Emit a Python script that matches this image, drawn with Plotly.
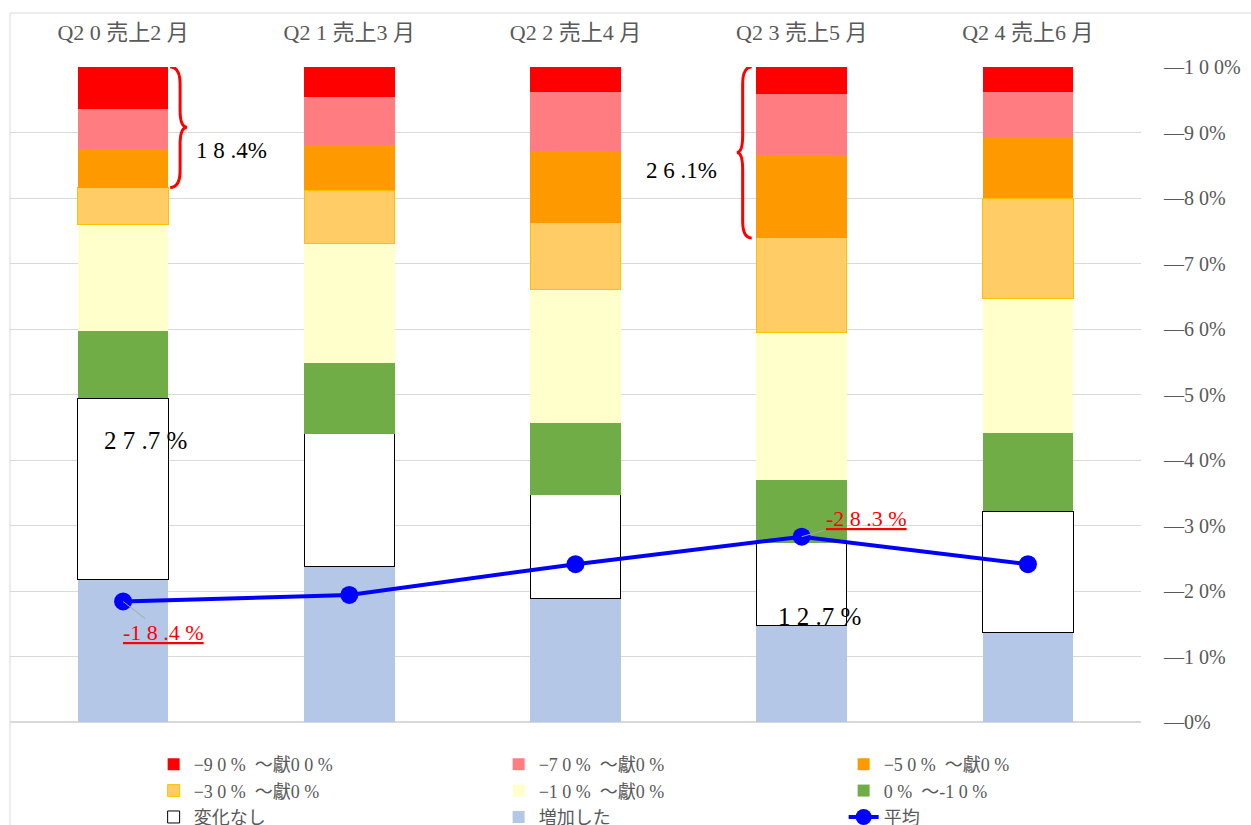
import plotly.graph_objects as go

categories = ["Q2 0 売上2 月", "Q2 1 売上3 月", "Q2 2 売上4 月", "Q2 3 売上5 月", "Q2 4 売上6 月"]

# stacked shares (%), bottom to top
increased   = [21.7, 23.7, 18.8, 14.7, 13.6]   # 増加した
no_change   = [27.7, 20.3, 15.9, 12.7, 18.6]   # 変化なし
d0_10       = [10.3, 10.8, 10.9,  9.5, 11.9]   # 0% ~ -10%
d10_30      = [16.2, 18.2, 20.4, 22.5, 20.6]   # -10% ~ -30%
d30_50      = [ 5.7,  8.2, 10.2, 14.5, 15.3]   # -30% ~ -50%
d50_70      = [ 5.9,  6.9, 11.0, 12.7,  9.3]   # -50% ~ -70%
d70_90      = [ 6.1,  7.3,  9.0,  9.3,  6.9]   # -70% ~ -90%
d90_100     = [ 6.4,  4.6,  3.8,  4.1,  3.8]   # -90% ~ -100%
average     = [18.4, 19.4, 24.1, 28.3, 24.1]   # 平均 (magnitude of decline)

y_ticks = [0, 10, 20, 30, 40, 50, 60, 70, 80, 90, 100]
y_tick_text = ["—0%", "—1 0%", "—2 0%", "—3 0%", "—4 0%", "—5 0%",
               "—6 0%", "—7 0%", "—8 0%", "—9 0%", "—1 0 0%"]

series = [
    ("増加した", increased, "#B4C7E7", "#B4C7E7", 0, 8),
    ("変化なし", no_change, "#FFFFFF", "#000000", 1, 7),
    ("0 %  〜-1 0 %", d0_10, "#70AD47", "#70AD47", 0, 6),
    ("−1 0 %  〜獻0 %", d10_30, "#FFFFCC", "#FFFFCC", 0, 5),
    ("−3 0 %  〜獻0 %", d30_50, "#FFCC66", "#FFC000", 1, 4),
    ("−5 0 %  〜獻0 %", d50_70, "#FF9900", "#FF9900", 0, 3),
    ("−7 0 %  〜獻0 %", d70_90, "#FF7C80", "#FF7C80", 0, 2),
    ("−9 0 %  〜獻0 0 %", d90_100, "#FF0000", "#FF0000", 0, 1),
]

FONT = "Liberation Serif, 'Noto Sans CJK JP', serif"
GRAY = "#595959"

xs = list(range(len(categories)))
fig = go.Figure()
for name, vals, fill, line, lw, rank in series:
    fig.add_trace(go.Bar(
        x=xs, y=vals, name=name, width=0.4,
        marker=dict(color=fill, line=dict(color=line, width=lw)),
        legendrank=rank, hoverinfo="skip",
    ))

fig.add_trace(go.Scatter(
    x=xs, y=average, name="平均", mode="lines+markers",
    line=dict(color="#0000FF", width=4),
    marker=dict(color="#0000FF", size=18),
    legendrank=9,
))

# stacked tops for annotation placement
def cum(i, k):
    return sum(s[1][i] for s in series[:k])

# data labels of the average line
fig.add_annotation(x=0, y=average[0], text="<u>-1 8 .4 %</u>", showarrow=True,
                   ax=40, ay=31, arrowhead=0, arrowwidth=1, arrowcolor="#A6A6A6",
                   font=dict(family=FONT, size=22, color="#FF0000"))
fig.add_annotation(x=3, y=average[3], text="<u>-2 8 .3 %</u>", showarrow=True,
                   ax=65, ay=-18, arrowhead=0, arrowwidth=1, arrowcolor="#A6A6A6",
                   font=dict(family=FONT, size=22, color="#FF0000"))

# white segment labels
fig.add_annotation(x=0.1, y=cum(0, 1) + no_change[0] * 0.77, text="2 7 .7 %", showarrow=False,
                   font=dict(family=FONT, size=25, color="#000000"))
fig.add_annotation(x=3.08, y=cum(3, 1) + 1.4, text="1 2 .7 %", showarrow=False,
                   font=dict(family=FONT, size=25, color="#000000"))

# braces
def brace(x_tip, x_spine, x_point, y_top, y_bot, r=2.6):
    ym = (y_top + y_bot) / 2
    return (f"M {x_tip},{y_top} Q {x_spine},{y_top} {x_spine},{y_top - r} "
            f"L {x_spine},{ym + r} Q {x_spine},{ym} {x_point},{ym} "
            f"Q {x_spine},{ym} {x_spine},{ym - r} "
            f"L {x_spine},{y_bot + r} Q {x_spine},{y_bot} {x_tip},{y_bot}")

top0 = 100
bot0 = cum(0, 5)
fig.add_shape(type="path", xref="x", yref="y",
              path=brace(0.208, 0.252, 0.283, top0, bot0),
              line=dict(color="#FF0000", width=3))
fig.add_annotation(x=0.48, y=(top0 + bot0) / 2 - 3.6, text="1 8 .4%", showarrow=False,
                   font=dict(family=FONT, size=23, color="#000000"))

bot3 = cum(3, 5)
fig.add_shape(type="path", xref="x", yref="y",
              path=brace(2.779, 2.739, 2.713, 100, bot3),
              line=dict(color="#FF0000", width=3))
fig.add_annotation(x=2.47, y=(100 + bot3) / 2 - 2.8, text="2 6 .1%", showarrow=False,
                   font=dict(family=FONT, size=23, color="#000000"))

# chart frame (top and left edges)
fig.add_shape(type="line", xref="paper", yref="paper", x0=0, x1=1.1, y0=1.0824, y1=1.0824,
              line=dict(color="#D9D9D9", width=1))
fig.add_shape(type="line", xref="paper", yref="paper", x0=0, x1=0, y0=1.0824, y1=-0.2,
              line=dict(color="#D9D9D9", width=1))

fig.update_layout(
    width=1251, height=825,
    margin=dict(l=10, r=110, t=67, b=103, autoexpand=False),
    barmode="stack",
    plot_bgcolor="#FFFFFF", paper_bgcolor="#FFFFFF",
    font=dict(family=FONT, color=GRAY),
    showlegend=True,
    legend=dict(orientation="h", x=0.127, y=-0.0366, xanchor="left", yanchor="top",
                entrywidth=300, entrywidthmode="pixels",
                font=dict(family=FONT, size=18, color=GRAY), traceorder="normal"),
    xaxis=dict(range=[-0.5, 4.5], tickvals=xs, ticktext=categories, side="top",
               showgrid=False, zeroline=False, showline=False, ticks="",
               tickfont=dict(family=FONT, size=22, color=GRAY), ticklabelstandoff=22),
    yaxis=dict(range=[0, 100], side="right", tickvals=y_ticks, ticktext=y_tick_text,
               showgrid=True, gridcolor="#D9D9D9", gridwidth=1,
               zeroline=True, zerolinecolor="#D9D9D9", zerolinewidth=2,
               showline=False, ticks="",
               tickfont=dict(family=FONT, size=20, color=GRAY), ticklabelstandoff=22),
)

fig.write_html("out.html", config={"displayModeBar": False},
               post_script="document.body.style.margin='0';")
